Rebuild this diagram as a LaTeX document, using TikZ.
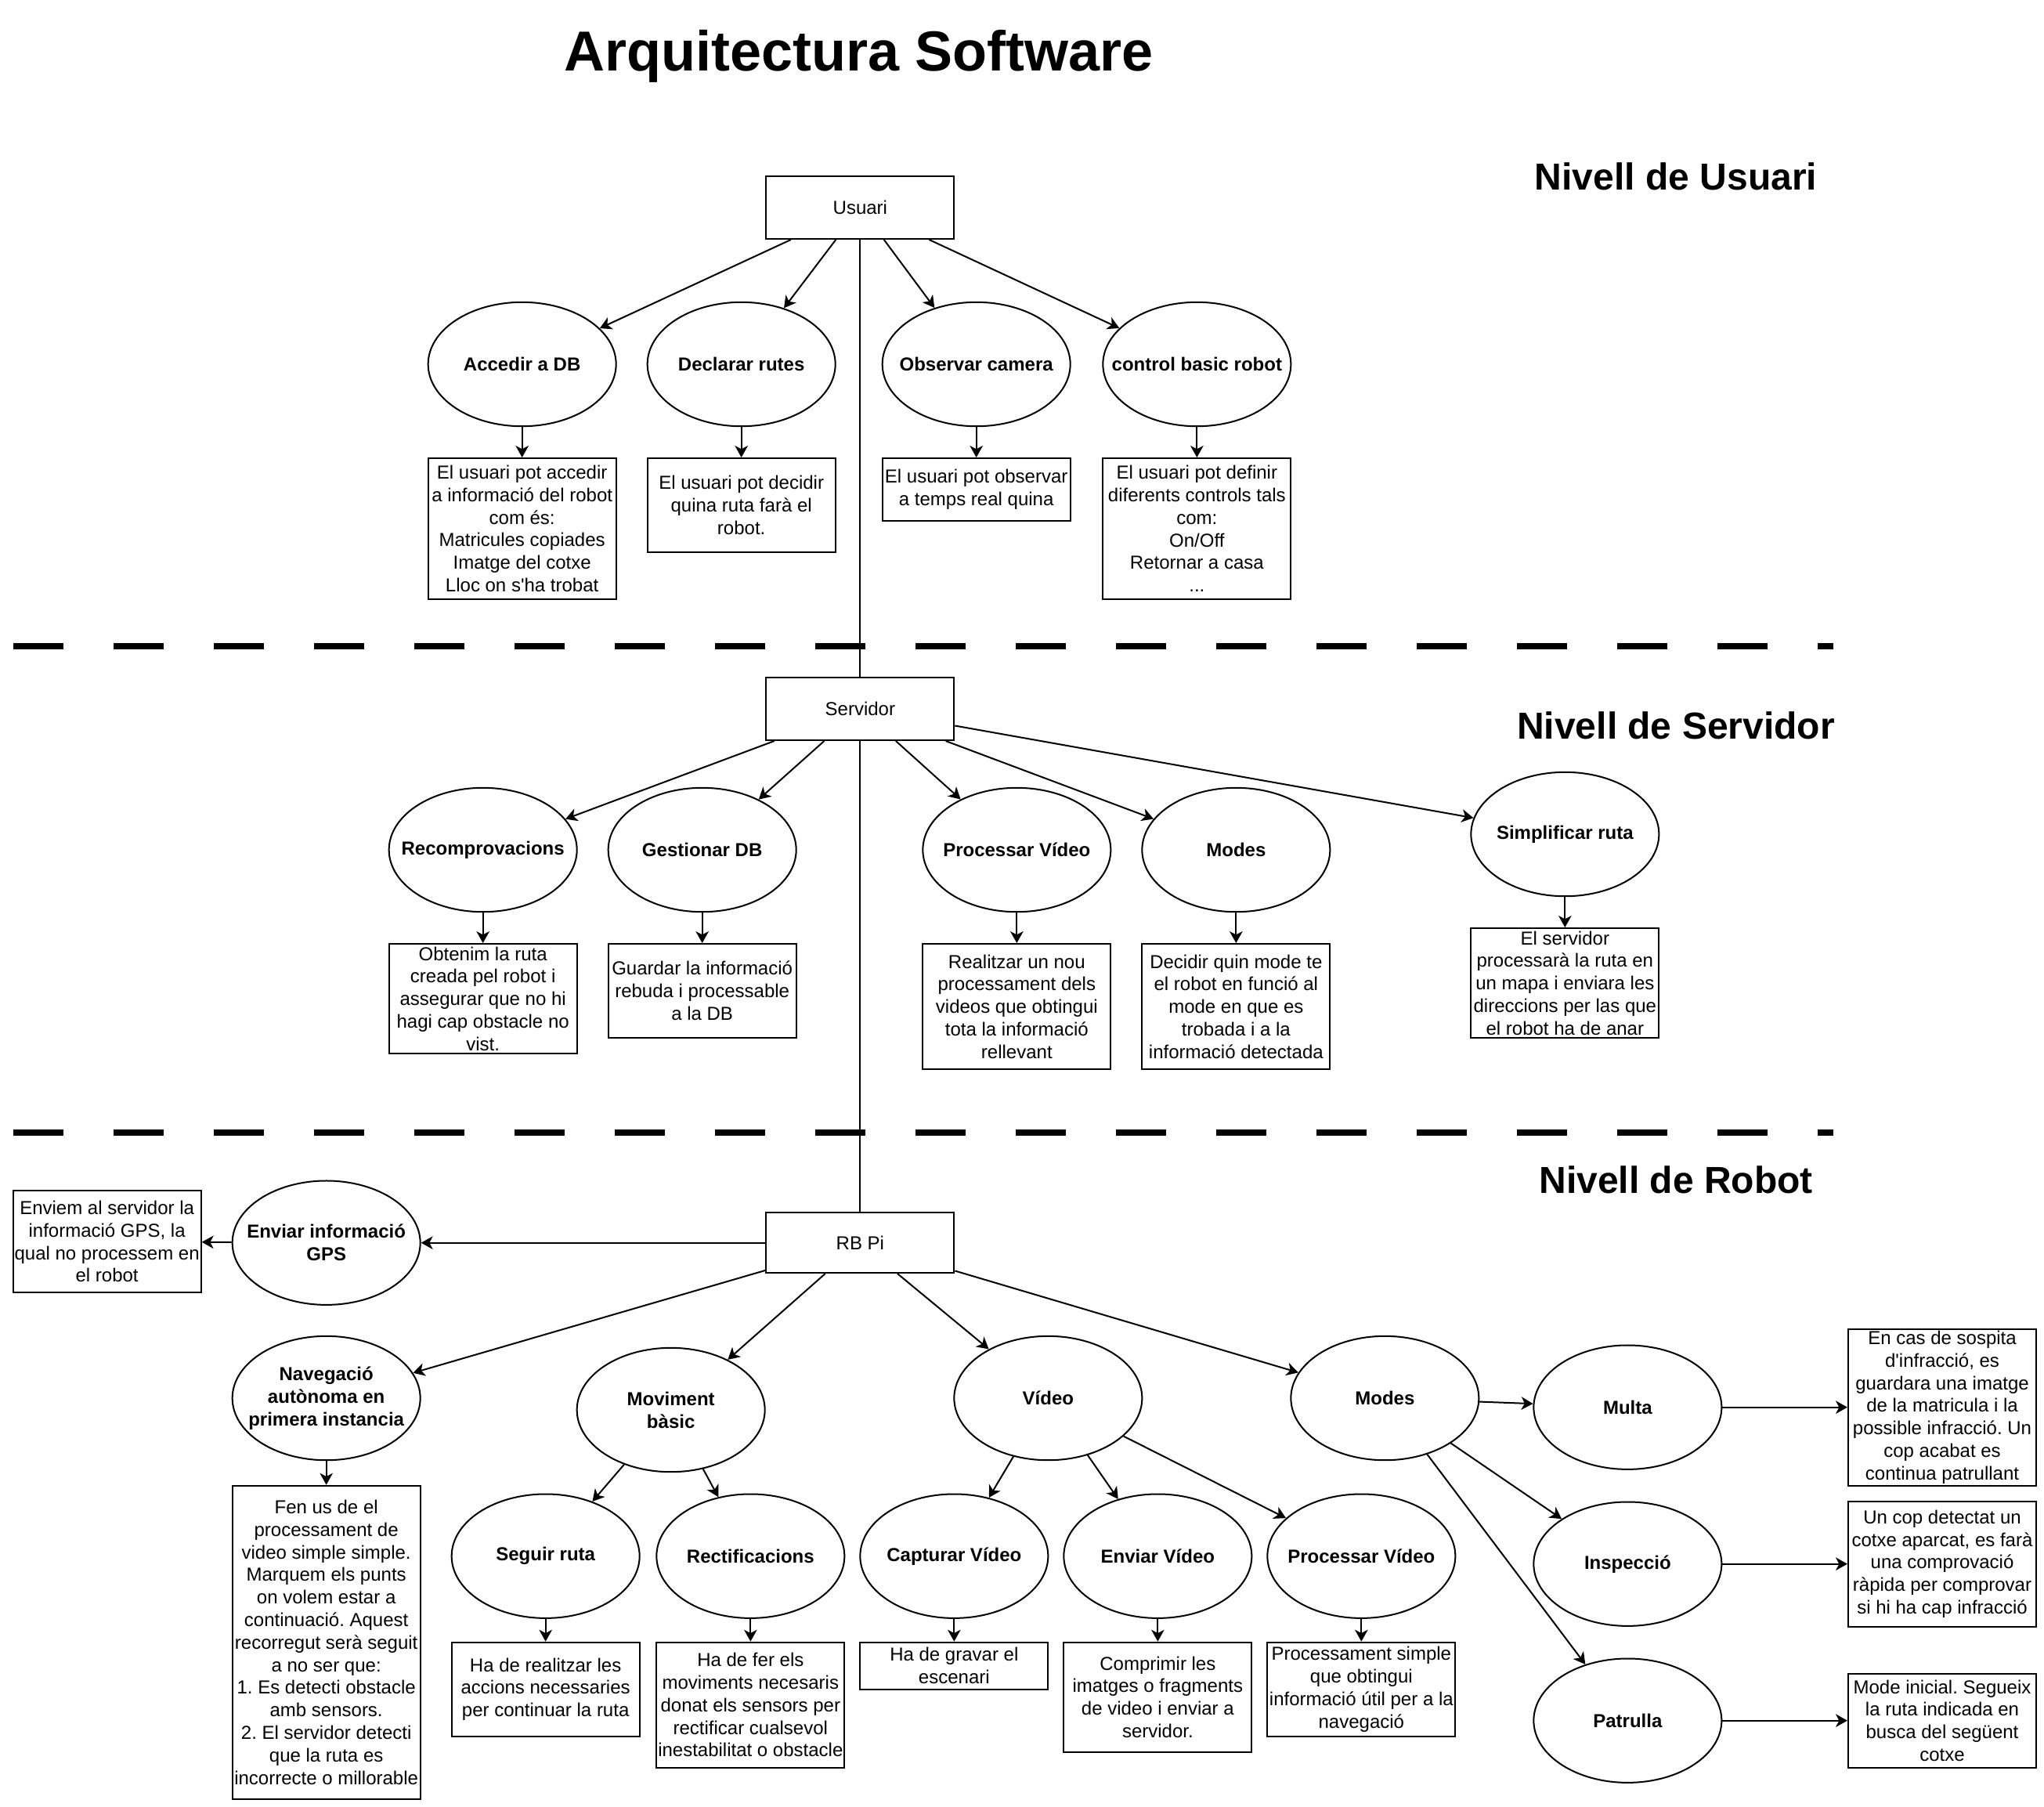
\documentclass[tikz,border=0pt]{standalone}
\usepackage{fontspec}
\setmainfont{Liberation Sans}
\usetikzlibrary{arrows.meta,shapes.geometric}
\frenchspacing
\tikzset{
  shp/.style={draw, line width=0.75pt, fill=white, inner sep=0pt, minimum width=90pt},
  ell/.style={shp, ellipse, minimum height=59.4pt},
  rbox/.style={shp, rectangle},
  lbl/.style={align=center, inner sep=0pt, font=\fontsize{9}{10.8}\selectfont},
  blbl/.style={lbl, font=\bfseries\fontsize{9}{10.8}\selectfont},
  arr/.style={-{Stealth[length=5.6pt,width=6.2pt,inset=1.6pt]}, line width=0.75pt},
  conn/.style={line width=0.75pt},
  sepline/.style={line width=3pt, dash pattern=on 24pt off 24pt},
  lvl/.style={font=\bfseries\fontsize{18}{21.6}\selectfont, inner sep=0pt},
}
\newcommand\ellnode[3]{\node[ell] (#1) at (#2) {}; \node[blbl] at (#1.center) {#3};}
\newcommand\boxnode[4]{\node[rbox, minimum height=#3*0.625pt] (#1) at (#2) {}; \node[lbl] at (#1.center) {#4};}
\begin{document}
\begin{tikzpicture}[x=0.625pt,y=-0.625pt]
\useasboundingbox (0,0) rectangle (1566,1383.6);

% titles
\node[font=\bfseries\fontsize{27}{32.4}\selectfont, inner sep=0pt] (title) at (658,43) {Arquitectura Software};
\node[lvl] (lu) at (1284,135) {Nivell de Usuari};
\node[lvl] (ls) at (1284,556) {Nivell de Servidor};
\node[lvl] (lr) at (1284,904) {Nivell de Robot};

% separators
\coordinate (s1a) at (10.2,495); \coordinate (s1b) at (1404.6,495);
\coordinate (s2a) at (10.2,867.5); \coordinate (s2b) at (1404.6,867.5);
\draw[sepline] (s1a) -- (s1b);
\draw[sepline] (s2a) -- (s2b);

% main spine
\coordinate (uspine) at (659,183);
\coordinate (rspine) at (659,929);
\draw[conn] (uspine) -- (rspine);

% ---------- Usuari level ----------
\boxnode{usuari}{659,159}{48}{Usuari}
\ellnode{acc}{400,279}{Accedir a DB}
\ellnode{dec}{568,279}{Declarar rutes}
\ellnode{obs}{748,279}{Observar camera}
\ellnode{ctl}{917,279}{control basic robot}
\boxnode{accb}{400,405}{108}{El usuari pot accedir\\a informació del robot\\com és:\\Matricules copiades\\Imatge del cotxe\\Lloc on s\textquotesingle ha trobat}
\boxnode{decb}{568,387}{72}{El usuari pot decidir\\quina ruta farà el\\robot.}
\boxnode{obsb}{748,375}{48}{El usuari pot observar\\a temps real quina}
\boxnode{ctlb}{917,405}{108}{El usuari pot definir\\diferents controls tals\\com:\\On/Off\\Retornar a casa\\...}
\foreach \e in {acc,dec,obs,ctl} {\draw[arr] (usuari) -- (\e);}
\draw[arr] (acc) -- (accb);
\draw[arr] (dec) -- (decb);
\draw[arr] (obs) -- (obsb);
\draw[arr] (ctl) -- (ctlb);

% ---------- Servidor level ----------
\boxnode{servidor}{659,543}{48}{Servidor}
\ellnode{rec}{370,651}{Recomprovacions}
\ellnode{ges}{538,651}{Gestionar DB}
\ellnode{pv}{779,651}{Processar Vídeo}
\ellnode{smod}{947,651}{Modes}
\ellnode{sim}{1199,639}{Simplificar ruta}
\boxnode{recb}{370,765}{84}{Obtenim la ruta\\creada pel robot i\\assegurar que no hi\\hagi cap obstacle no\\vist.}
\boxnode{gesb}{538,759}{72}{Guardar la informació\\rebuda i processable\\a la DB}
\boxnode{pvb}{779,771}{96}{Realitzar un nou\\processament dels\\videos que obtingui\\tota la informació\\rellevant}
\boxnode{smodb}{947,771}{96}{Decidir quin mode te\\el robot en funció al\\mode en que es\\trobada i a la\\informació detectada}
\boxnode{simb}{1199,753}{84}{El servidor\\processarà la ruta en\\un mapa i enviara les\\direccions per las que\\el robot ha de anar}
\foreach \e in {rec,ges,pv,smod,sim} {\draw[arr] (servidor) -- (\e);}
\draw[arr] (rec) -- (recb);
\draw[arr] (ges) -- (gesb);
\draw[arr] (pv) -- (pvb);
\draw[arr] (smod) -- (smodb);
\draw[arr] (sim) -- (simb);

% ---------- Robot level ----------
\boxnode{rbpi}{659,952}{46}{RB Pi}
\ellnode{gps}{250,952}{Enviar informació\\GPS}
\boxnode{gpsb}{82,951}{78}{Enviem al servidor la\\informació GPS, la\\qual no processem en\\el robot}
\ellnode{nav}{250,1071}{Navegació\\autònoma en\\primera instancia}
\boxnode{navb}{250,1258}{240}{Fen us de el\\processament de\\video simple simple.\\Marquem els punts\\on volem estar a\\continuació. Aquest\\recorregut serà seguit\\a no ser que:\\1. Es detecti obstacle\\amb sensors.\\2. El servidor detecti\\que la ruta es\\incorrecte o millorable}
\ellnode{mov}{514,1080}{Moviment\\bàsic}
\ellnode{seg}{418,1192}{Seguir ruta}
\ellnode{rect}{575,1192}{Rectificacions}
\boxnode{segb}{418,1294}{72}{Ha de realitzar les\\accions necessaries\\per continuar la ruta}
\boxnode{rectb}{575,1306}{96}{Ha de fer els\\moviments necesaris\\donat els sensors per\\rectificar cualsevol\\inestabilitat o obstacle}
\ellnode{vid}{803,1071}{Vídeo}
\ellnode{cap}{731,1192}{Capturar Vídeo}
\ellnode{env}{887,1192}{Enviar Vídeo}
\ellnode{pro}{1043,1192}{Processar Vídeo}
\boxnode{capb}{731,1276}{36}{Ha de gravar el\\escenari}
\boxnode{envb}{887,1300}{84}{Comprimir les\\imatges o fragments\\de video i enviar a\\servidor.}
\boxnode{prob}{1043,1294}{72}{Processament simple\\que obtingui\\informació útil per a la\\navegació}
\ellnode{rmod}{1061,1071}{Modes}
\ellnode{mul}{1247,1078}{Multa}
\ellnode{ins}{1247,1198}{Inspecció}
\ellnode{pat}{1247,1318}{Patrulla}
\boxnode{mulb}{1488,1078}{120}{En cas de sospita\\d\textquotesingle infracció, es\\guardara una imatge\\de la matricula i la\\possible infracció. Un\\cop acabat es\\continua patrullant}
\boxnode{insb}{1488,1198}{96}{Un cop detectat un\\cotxe aparcat, es farà\\una comprovació\\ràpida per comprovar\\si hi ha cap infracció}
\boxnode{patb}{1488,1318}{72}{Mode inicial. Segueix\\la ruta indicada en\\busca del següent\\cotxe}

\foreach \e in {gps,nav,mov,vid,rmod} {\draw[arr] (rbpi) -- (\e);}
\draw[arr] (gps) -- (gpsb);
\draw[arr] (nav) -- (navb);
\draw[arr] (mov) -- (seg);
\draw[arr] (mov) -- (rect);
\draw[arr] (seg) -- (segb);
\draw[arr] (rect) -- (rectb);
\draw[arr] (vid) -- (cap);
\draw[arr] (vid) -- (env);
\draw[arr] (vid) -- (pro);
\draw[arr] (cap) -- (capb);
\draw[arr] (env) -- (envb);
\draw[arr] (pro) -- (prob);
\draw[arr] (rmod) -- (mul);
\draw[arr] (rmod) -- (ins);
\draw[arr] (rmod) -- (pat);
\draw[arr] (mul) -- (mulb);
\draw[arr] (ins) -- (insb);
\draw[arr] (pat) -- (patb);
\end{tikzpicture}
\end{document}
